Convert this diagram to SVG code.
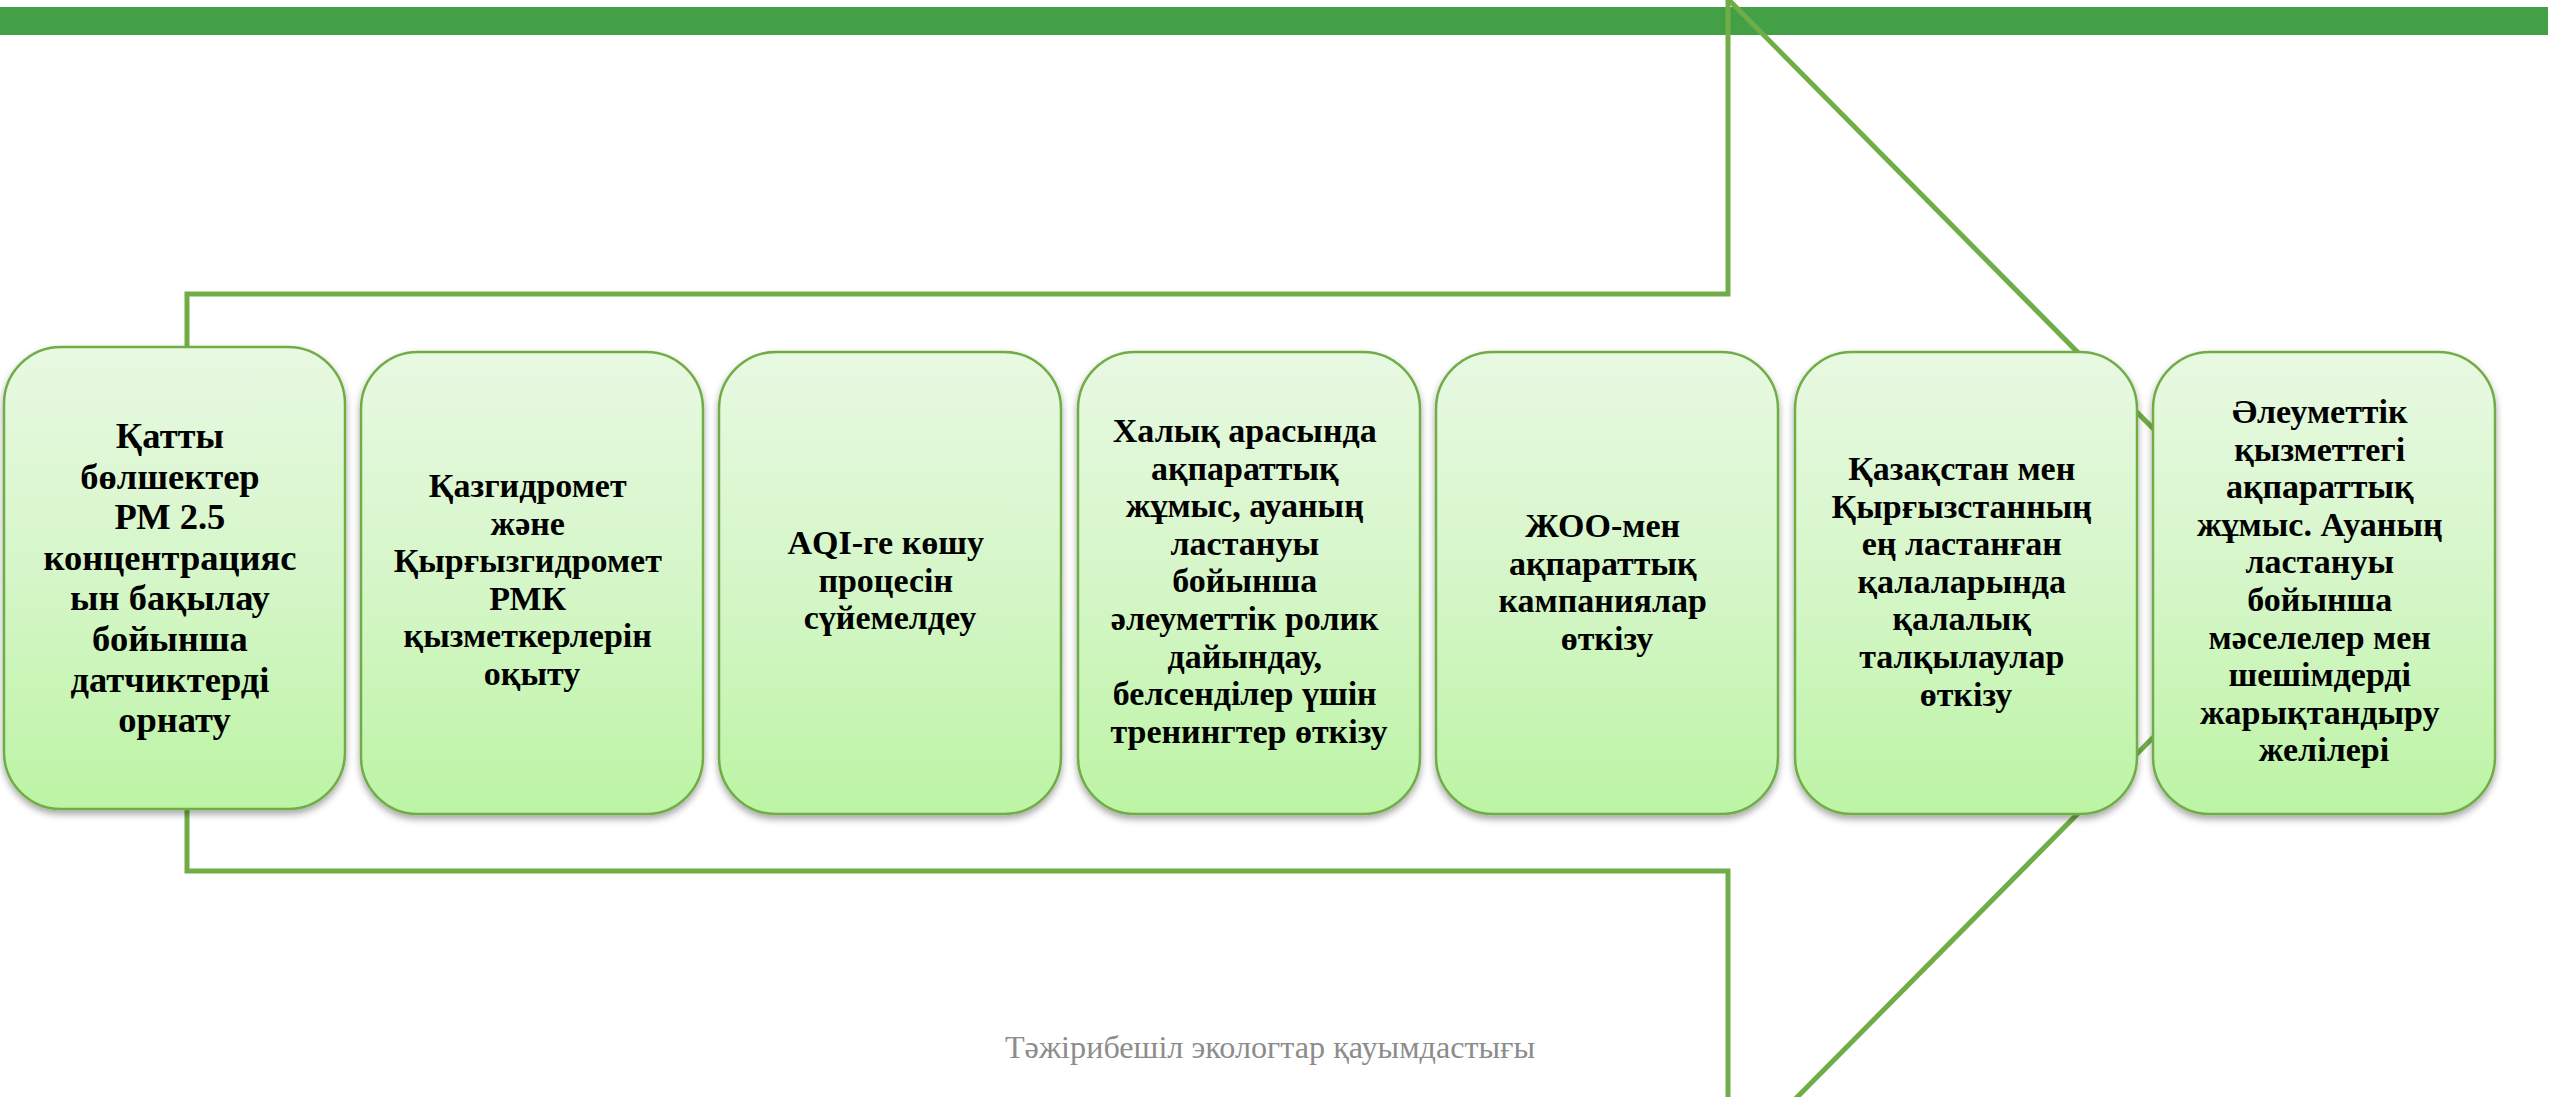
<svg xmlns="http://www.w3.org/2000/svg" width="2552" height="1097" viewBox="0 0 2552 1097">
  <defs>
    <linearGradient id="boxFill" x1="0" y1="0" x2="0" y2="1">
      <stop offset="0" stop-color="#e8f9e2"/>
      <stop offset="0.5" stop-color="#d5f6c8"/>
      <stop offset="1" stop-color="#bcf4a4"/>
    </linearGradient>
    <filter id="shadow" x="-10%" y="-10%" width="120%" height="120%">
      <feDropShadow dx="0" dy="4" stdDeviation="3.5" flood-color="#000" flood-opacity="0.35"/>
    </filter>
    <style>
      .box { fill: url(#boxFill); stroke: #70ad47; stroke-width: 2.5; filter: url(#shadow); }
      .t { font-family: "Liberation Serif", "Times New Roman", serif; font-weight: bold; font-size: 34px; fill: #000; text-anchor: middle; }
      .t1 { font-size: 36.5px; }
      .outline { fill: none; stroke: #70ad47; stroke-width: 5; stroke-linejoin: miter; }
      .footer { font-family: "Liberation Serif", "Times New Roman", serif; font-size: 32.2px; fill: #8c8c8c; text-anchor: middle; }
    </style>
  </defs>
  <rect x="0" y="0" width="2552" height="1097" fill="#ffffff"/>
  <rect id="top-bar" x="0" y="7" width="2548" height="28" fill="#43a047"/>

  <g id="connectors">
    <polygon class="outline" points="187,294 1728,294 1728,-1 2306,583 1728,1167 1728,871 187,871"/>
  </g>

  <g id="node1">
    <rect class="box" x="4" y="347" width="341" height="462" rx="57" ry="57"/>
    <text class="t t1" x="174.5" y="448">
      <tspan x="174.5">Қатты</tspan>
      <tspan x="174.5" dy="40.6">бөлшектер</tspan>
      <tspan x="174.5" dy="40.6">РМ 2.5</tspan>
      <tspan x="174.5" dy="40.6">концентрацияс</tspan>
      <tspan x="174.5" dy="40.6">ын бақылау</tspan>
      <tspan x="174.5" dy="40.6">бойынша</tspan>
      <tspan x="174.5" dy="40.6">датчиктерді</tspan>
      <tspan x="174.5" dy="40.6">орнату</tspan>
    </text>
  </g>

  <g id="node2">
    <rect class="box" x="361" y="352" width="342" height="462" rx="57" ry="57"/>
    <text class="t" x="532" y="497">
      <tspan x="532">Қазгидромет</tspan>
      <tspan x="532" dy="37.6">және</tspan>
      <tspan x="532" dy="37.6">Қырғызгидромет</tspan>
      <tspan x="532" dy="37.6">РМК</tspan>
      <tspan x="532" dy="37.6">қызметкерлерін</tspan>
      <tspan x="532" dy="37.6">оқыту</tspan>
    </text>
  </g>

  <g id="node3">
    <rect class="box" x="719" y="352" width="342" height="462" rx="57" ry="57"/>
    <text class="t" x="890" y="554">
      <tspan x="890">AQI-ге көшу</tspan>
      <tspan x="890" dy="37.6">процесін</tspan>
      <tspan x="890" dy="37.6">сүйемелдеу</tspan>
    </text>
  </g>

  <g id="node4">
    <rect class="box" x="1078" y="352" width="342" height="462" rx="57" ry="57"/>
    <text class="t" x="1249" y="442">
      <tspan x="1249">Халық арасында</tspan>
      <tspan x="1249" dy="37.6">ақпараттық</tspan>
      <tspan x="1249" dy="37.6">жұмыс, ауаның</tspan>
      <tspan x="1249" dy="37.6">ластануы</tspan>
      <tspan x="1249" dy="37.6">бойынша</tspan>
      <tspan x="1249" dy="37.6">әлеуметтік ролик</tspan>
      <tspan x="1249" dy="37.6">дайындау,</tspan>
      <tspan x="1249" dy="37.6">белсенділер үшін</tspan>
      <tspan x="1249" dy="37.6">тренингтер өткізу</tspan>
    </text>
  </g>

  <g id="node5">
    <rect class="box" x="1436" y="352" width="342" height="462" rx="57" ry="57"/>
    <text class="t" x="1607" y="537">
      <tspan x="1607">ЖОО-мен</tspan>
      <tspan x="1607" dy="37.6">ақпараттық</tspan>
      <tspan x="1607" dy="37.6">кампаниялар</tspan>
      <tspan x="1607" dy="37.6">өткізу</tspan>
    </text>
  </g>

  <g id="node6">
    <rect class="box" x="1795" y="352" width="342" height="462" rx="57" ry="57"/>
    <text class="t" x="1966" y="480">
      <tspan x="1966">Қазақстан мен</tspan>
      <tspan x="1966" dy="37.6">Қырғызстанның</tspan>
      <tspan x="1966" dy="37.6">ең ластанған</tspan>
      <tspan x="1966" dy="37.6">қалаларында</tspan>
      <tspan x="1966" dy="37.6">қалалық</tspan>
      <tspan x="1966" dy="37.6">талқылаулар</tspan>
      <tspan x="1966" dy="37.6">өткізу</tspan>
    </text>
  </g>

  <g id="node7">
    <rect class="box" x="2153" y="352" width="342" height="462" rx="57" ry="57"/>
    <text class="t" x="2324" y="423">
      <tspan x="2324">Әлеуметтік</tspan>
      <tspan x="2324" dy="37.6">қызметтегі</tspan>
      <tspan x="2324" dy="37.6">ақпараттық</tspan>
      <tspan x="2324" dy="37.6">жұмыс. Ауаның</tspan>
      <tspan x="2324" dy="37.6">ластануы</tspan>
      <tspan x="2324" dy="37.6">бойынша</tspan>
      <tspan x="2324" dy="37.6">мәселелер мен</tspan>
      <tspan x="2324" dy="37.6">шешімдерді</tspan>
      <tspan x="2324" dy="37.6">жарықтандыру</tspan>
      <tspan x="2324" dy="37.6">желілері</tspan>
    </text>
  </g>

  <text class="footer" x="1270" y="1058">Тәжірибешіл экологтар қауымдастығы</text>
</svg>
